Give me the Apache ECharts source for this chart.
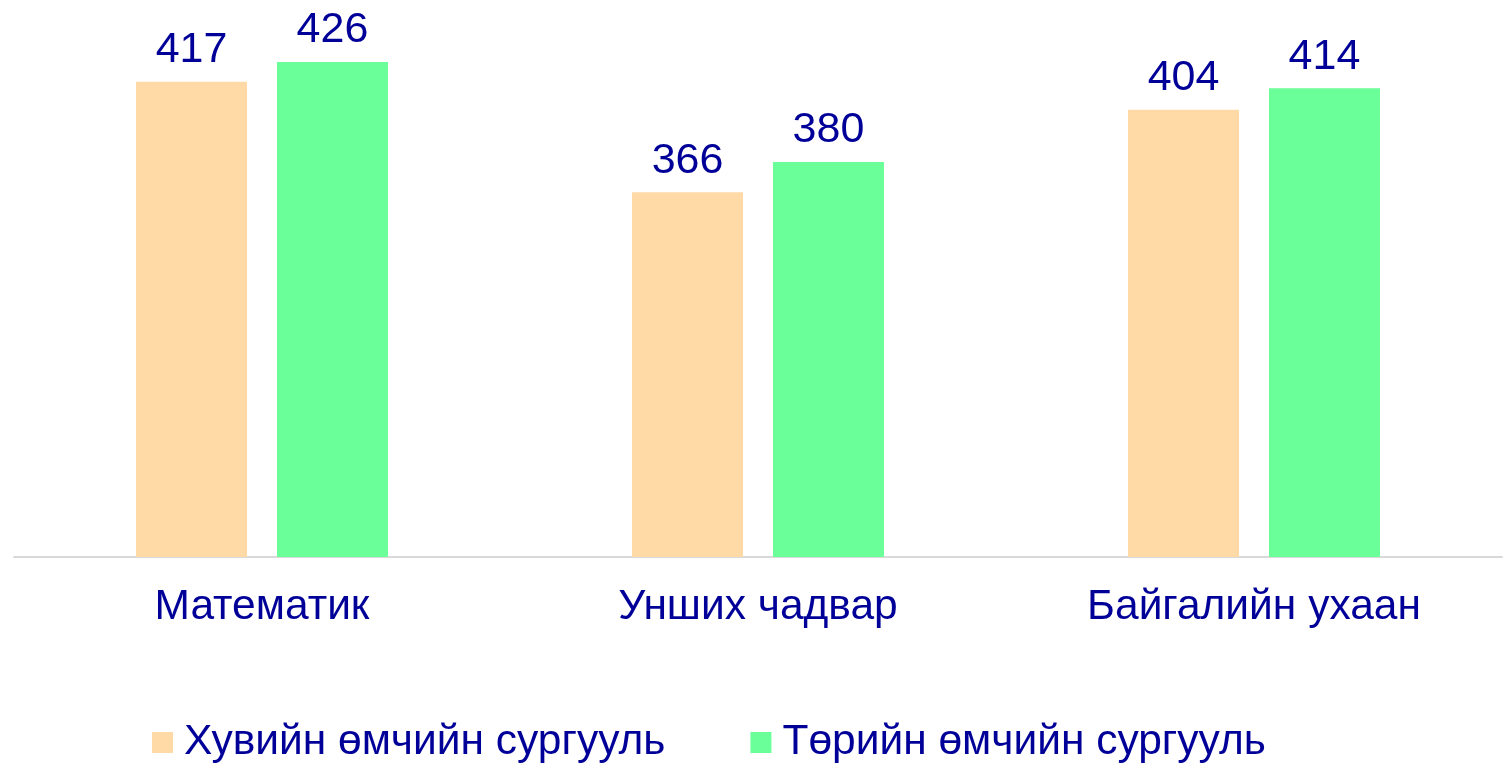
<!DOCTYPE html>
<html>
<head>
<meta charset="utf-8">
<script src="https://cdn.jsdelivr.net/npm/echarts@6/dist/echarts.min.js"></script>
<style>
html, body { margin: 0; padding: 0; background: #fff; }
#chart { width: 1504px; height: 763px; }
</style>
</head>
<body>
<div id="chart"></div>
<script>
var subjects = ['Математик', 'Унших чадвар', 'Байгалийн ухаан'];
var seriesNames = ['Хувийн өмчийн сургууль', 'Төрийн өмчийн сургууль'];
var privateScores = [417, 366, 404];
var publicScores = [426, 380, 414];

var textColor = '#000099';
var myChart = echarts.init(document.getElementById('chart'));

var option = {
    backgroundColor: '#fff',
    textStyle: { fontFamily: 'Liberation Sans, Arial, sans-serif' },
    grid: { left: 14, right: 2, top: 10, bottom: 206 },
    legend: {
        data: seriesNames,
        left: 147,
        top: 716,
        itemWidth: 21,
        itemHeight: 21,
        itemGap: 85,
        icon: 'rect',
        textStyle: { color: textColor, fontSize: 42.5, fontFamily: 'Liberation Sans, Arial, sans-serif', padding: [0, 0, 0, 6] }
    },
    xAxis: {
        type: 'category',
        data: subjects,
        axisLine: { lineStyle: { color: '#d9d9d9', width: 2 } },
        axisTick: { show: false },
        axisLabel: { color: textColor, fontSize: 42.5, margin: 29 }
    },
    yAxis: {
        type: 'value',
        min: 198,
        max: 450,
        show: false,
        splitLine: { show: false }
    },
    series: [{
        name: seriesNames[0],
        type: 'bar',
        data: privateScores,
        barWidth: 111,
        barGap: '27%',
        itemStyle: { color: '#FFDAA6' },
        label: { show: true, position: 'top', distance: 10, color: textColor, fontSize: 43 }
    }, {
        name: seriesNames[1],
        type: 'bar',
        data: publicScores,
        barWidth: 111,
        itemStyle: { color: '#6AFF99' },
        label: { show: true, position: 'top', distance: 10, color: textColor, fontSize: 43 }
    }]
};
myChart.setOption(option);
</script>
</body>
</html>
